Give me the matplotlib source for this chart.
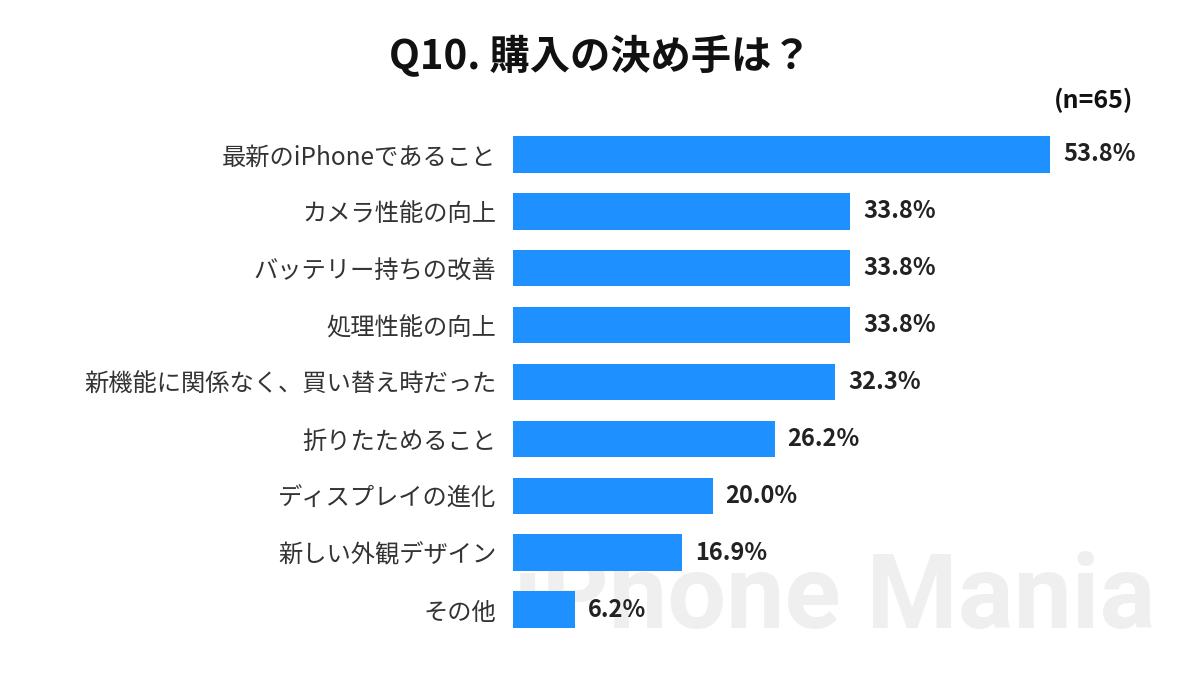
import matplotlib.pyplot as plt

plt.rcParams['font.family'] = ['Noto Sans CJK JP', 'DejaVu Sans']

# data
labels = ['最新のiPhoneであること', 'カメラ性能の向上', 'バッテリー持ちの改善', '処理性能の向上',
          '新機能に関係なく、買い替え時だった', '折りたためること', 'ディスプレイの進化',
          '新しい外観デザイン', 'その他']
values = [53.8, 33.8, 33.8, 33.8, 32.3, 26.2, 20.0, 16.9, 6.2]

fig = plt.figure(figsize=(12, 6.75), dpi=100)
ax = fig.add_axes([513 / 1200, 1 - 638 / 675, 599 / 1200, 512 / 675])

# watermark
fig.text(0.428, 1 - 628 / 675, 'iPhone Mania', fontsize=75, fontweight='bold',
         color='#efefef', family=['Roboto', 'DejaVu Sans'], ha='left', va='baseline', zorder=0)
ax.set_zorder(1)
ax.patch.set_alpha(0)

y = list(range(len(labels)))
ax.barh(y, values, height=0.64, color='#1e90ff')
for yi, v in zip(y, values):
    ax.text(v + 1.3, yi, f'{v:.1f}%', va='center', ha='left', fontsize=17,
            fontweight='bold', color='#222222')

ax.set_yticks(y)
ax.set_yticklabels(labels, fontsize=17.5, color='#333333')
ax.tick_params(axis='y', length=0, pad=12)
ax.set_xticks([])
ax.set_xlim(0, 60)
ax.set_ylim(len(labels) - 0.5, -0.5)
for s in ax.spines.values():
    s.set_visible(False)

fig.text(0.5, 1 - 57 / 675, 'Q10. 購入の決め手は？', fontsize=29, fontweight='bold',
         ha='center', va='center', color='#111111')
fig.text(1133 / 1200, 1 - 100 / 675, '(n=65)', fontsize=18, fontweight='bold',
         ha='right', va='center', color='#111111')

fig.savefig('out.png', dpi=100)
